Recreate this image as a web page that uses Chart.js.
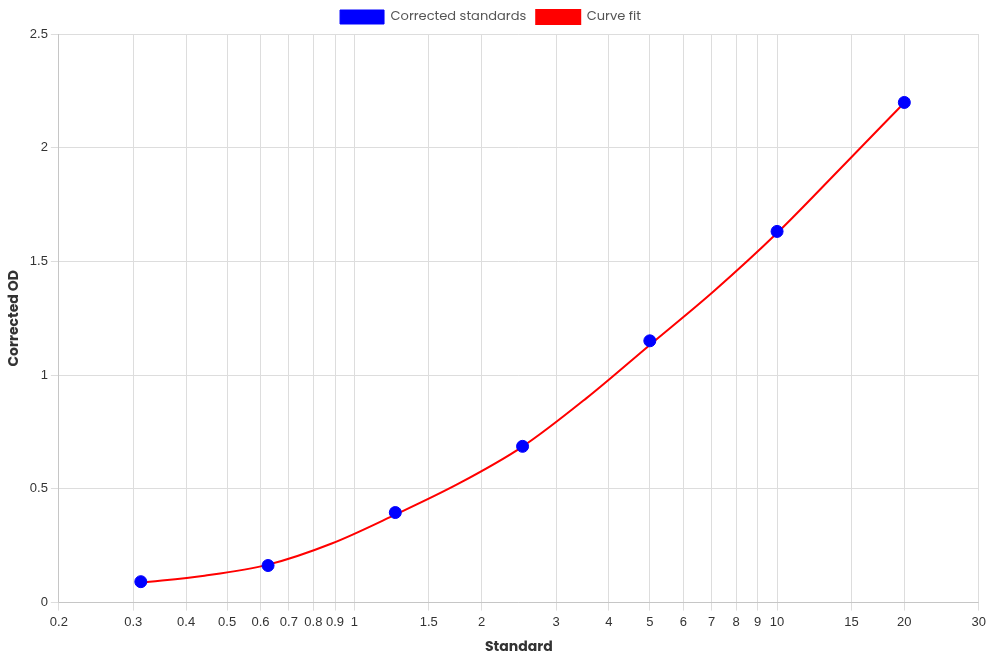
<!DOCTYPE html>
<html>
<head>
<meta charset="utf-8">
<script src="https://cdn.jsdelivr.net/npm/chart.js@4"></script>
<style>
  html, body { margin: 0; padding: 0; background: #fff; }
  #wrap { width: 990px; height: 660px; }
</style>
</head>
<body>
<div id="wrap"><canvas id="chartStandard"></canvas></div>
<script>
// standards (x) and their corrected OD readings
const standardX = [0.3125, 0.625, 1.25, 2.5, 5, 10, 20];
const correctedOD = [0.092, 0.163, 0.396, 0.687, 1.151, 1.632, 2.199];

// curve fit at half-doubling steps
const fitX = [0.3125, 0.442, 0.625, 0.884, 1.25, 1.768, 2.5, 3.536, 5, 7.071, 10, 14.142, 20];
const fitY = [0.087, 0.118, 0.167, 0.260, 0.387, 0.524, 0.686, 0.898, 1.133, 1.368, 1.625, 1.910, 2.198];

// x tick labels on the log axis
const xTicks = [0.2, 0.3, 0.4, 0.5, 0.6, 0.7, 0.8, 0.9, 1, 1.5, 2, 3, 4, 5, 6, 7, 8, 9, 10, 15, 20, 30];

const titleFont = { family: 'Poppins, "Open Sans", sans-serif', size: 14, weight: 'bold' };
const tickFont = { family: '"Liberation Sans", Arial, sans-serif', size: 13 };

const data = {
  datasets: [
    {
      label: 'Corrected standards',
      data: standardX.map((x, i) => ({ x: x, y: correctedOD[i] })),
      backgroundColor: 'rgb(0, 0, 255)',
      borderColor: 'rgb(0, 0, 255)',
      pointRadius: 6,
      pointHoverRadius: 7,
      showLine: false
    },
    {
      label: 'Curve fit',
      data: fitX.map((x, i) => ({ x: x, y: fitY[i] })),
      backgroundColor: 'rgb(255, 0, 0)',
      borderColor: 'rgb(255, 0, 0)',
      borderWidth: 2,
      pointRadius: 0,
      showLine: true,
      cubicInterpolationMode: 'monotone'
    }
  ]
};

const config = {
  type: 'scatter',
  data: data,
  options: {
    responsive: true,
    maintainAspectRatio: false,
    animation: false,
    layout: { padding: { right: 11, left: 2 } },
    plugins: {
      legend: {
        labels: {
          boxWidth: 44,
          boxHeight: 14,
          color: '#555',
          font: { family: 'Poppins, "Open Sans", sans-serif', size: 13 }
        }
      }
    },
    scales: {
      x: {
        type: 'logarithmic',
        min: 0.2,
        max: 30,
        afterBuildTicks: (axis) => { axis.ticks = xTicks.map(v => ({ value: v })); },
        ticks: {
          autoSkip: false,
          maxRotation: 0,
          padding: 4,
          color: '#333',
          font: tickFont,
          callback: (v) => String(v)
        },
        grid: { color: '#dddddd' },
        title: { display: true, text: 'Standard', color: '#333', font: titleFont, padding: { top: 5, bottom: 4 } }
      },
      y: {
        min: 0,
        max: 2.5,
        ticks: {
          stepSize: 0.5,
          padding: 3,
          color: '#333',
          font: tickFont,
          callback: (v) => String(v)
        },
        grid: { color: '#dddddd' },
        title: { display: true, text: 'Corrected OD', color: '#333', font: titleFont }
      }
    }
  }
};

new Chart(document.getElementById('chartStandard'), config);
</script>
</body>
</html>
